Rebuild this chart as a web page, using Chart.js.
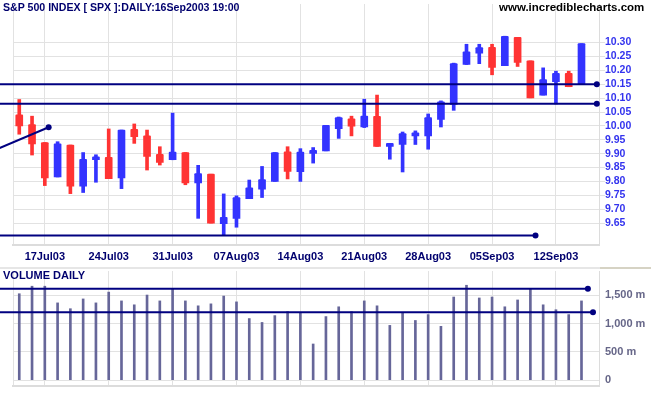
<!DOCTYPE html>
<html>
<head>
<meta charset="utf-8">
<script src="https://cdn.jsdelivr.net/npm/chart.js@4.4.0/dist/chart.umd.min.js"></script>
<style>
  html,body{margin:0;padding:0;background:#fff;}
  #wrap{position:relative;width:651px;height:395px;overflow:hidden;font-family:Arial,"Liberation Sans",sans-serif;}
  .lbl{position:absolute;font-weight:bold;white-space:nowrap;line-height:13px;}
  .sep{position:absolute;height:2px;top:267px;}
</style>
</head>
<body>
<div id="wrap">
  <canvas id="priceChart" width="651" height="267" style="position:absolute;left:0;top:0"></canvas>
  <div class="sep" style="left:0;width:600px;background:#e6e6e6"></div>
  <div class="sep" style="left:600px;width:51px;background:#d6d3c4"></div>
  <canvas id="volChart" width="651" height="128" style="position:absolute;left:0;top:267px"></canvas>
  <div class="lbl" style="left:3px;top:1px;font-size:10.6px;color:#00006e">S&amp;P 500 INDEX [ SPX ]:DAILY:16Sep2003 19:00</div>
  <div class="lbl" style="left:499px;top:1px;font-size:11.5px;color:#000">www.incrediblecharts.com</div>
  <div class="lbl" style="left:3px;top:269px;font-size:11px;color:#00006e">VOLUME DAILY</div>
</div>
<script>
// Sesiones de SPX (15 jul - 16 sep 2003)
const dates = ['15Jul03','16Jul03','17Jul03','18Jul03','21Jul03','22Jul03','23Jul03','24Jul03','25Jul03',
  '28Jul03','29Jul03','30Jul03','31Jul03','01Aug03','04Aug03','05Aug03','06Aug03','07Aug03','08Aug03',
  '11Aug03','12Aug03','13Aug03','14Aug03','15Aug03','18Aug03','19Aug03','20Aug03','21Aug03','22Aug03',
  '25Aug03','26Aug03','27Aug03','28Aug03','29Aug03','02Sep03','03Sep03','04Sep03','05Sep03',
  '08Sep03','09Sep03','10Sep03','11Sep03','12Sep03','15Sep03','16Sep03'];
const labelIdx = [2,7,12,17,22,27,32,37,42];

const open  = [10.04,10.005,9.94,9.816,9.931,9.783,9.878,9.887,9.813,9.988,9.964,9.898,9.878,9.904,9.795,9.826,9.648,9.667,9.738,9.772,9.80,9.907,9.835,9.901,9.91,9.99,10.025,9.996,10.034,9.926,9.933,9.964,9.964,10.023,10.077,10.221,10.262,10.283,10.217,10.319,10.234,10.111,10.159,10.189,10.15];
const high  = [10.095,10.035,9.94,9.943,9.931,9.904,9.896,9.989,9.985,10.007,9.985,9.925,10.046,9.904,9.858,9.826,9.755,9.748,9.805,9.854,9.904,9.925,9.918,9.922,10.002,10.032,10.035,10.096,10.111,9.936,9.978,9.982,10.043,10.09,10.226,10.294,10.294,10.294,10.323,10.319,10.234,10.209,10.197,10.197,10.296];
const low   = [9.97,9.895,9.785,9.816,9.756,9.76,9.797,9.81,9.774,9.937,9.841,9.859,9.878,9.788,9.667,9.65,9.606,9.635,9.738,9.742,9.80,9.809,9.80,9.866,9.91,9.955,9.964,9.994,9.926,9.88,9.834,9.933,9.916,9.996,10.056,10.221,10.224,10.184,10.217,10.214,10.101,10.111,10.079,10.141,10.15];
const close = [10.00,9.935,9.813,9.935,9.783,9.88,9.887,9.81,9.985,9.961,9.89,9.868,9.906,9.795,9.828,9.65,9.671,9.742,9.777,9.807,9.904,9.836,9.906,9.91,10.002,10.03,9.999,10.035,9.926,9.936,9.972,9.972,10.03,10.087,10.224,10.267,10.282,10.211,10.323,10.229,10.101,10.167,10.189,10.141,10.296];

// volumen en millones
const volume = [1529,1662,1662,1367,1264,1437,1367,1558,1402,1333,1506,1402,1610,1402,1315,1350,1488,1385,1090,1021,1142,1212,1194,640,1125,
  1298,1212,1402,1315,969,1194,1056,1160,952,1471,1679,1454,1471,1298,1419,1610,1333,1246,1160,1402];

const priceTicks = [9.65,9.70,9.75,9.80,9.85,9.90,9.95,10.00,10.05,10.10,10.15,10.20,10.25,10.30];
const volTicks = [0,500,1000,1500];

// lineas de soporte / resistencia: [x0, y0, x1, y1]
const priceLines = [[-1.55,10.15,45.2,10.15],[-1.55,10.08,45.2,10.08],[-1.55,9.605,40.4,9.605],[-1.55,9.92,2.3,9.995]];
const volLines = [[-1.55,1615,44.5,1615],[-1.55,1200,44.9,1200]];

const X_MIN = -0.49, X_MAX = 45.37;
const BLUE = '#3333ff', RED = '#ff3333', NAVY = '#000080', GRID = '#e2e2e2';

const idx = dates.map((_,i)=>i);
const candleColor = idx.map(i => close[i] >= open[i] ? BLUE : RED);

function lineSets(lines){
  return lines.map(l => ({
    type: 'line',
    data: [{x:l[0], y:l[1]}, {x:l[2], y:l[3]}],
    borderColor: NAVY,
    borderWidth: 2,
    pointRadius: [0, 3],
    pointBackgroundColor: NAVY,
    pointBorderWidth: 0,
    clip: false,
    order: 0
  }));
}

function xScale(showLabels, h){
  return {
    type: 'linear', min: X_MIN, max: X_MAX, offset: false,
    afterBuildTicks: s => { s.ticks = [X_MIN, ...labelIdx, X_MAX].map(v => ({value: v})); },
    afterFit: s => { s.height = h; s.paddingLeft = 0; s.paddingRight = 0; },
    grid: { color: GRID, drawTicks: false, offset: false },
    border: { color: '#dcdcdc', width: 2 },
    ticks: {
      display: showLabels, autoSkip: false, maxRotation: 0, padding: 5,
      color: '#00006e', font: { family: 'Arial', size: 11, weight: 'bold' },
      callback: v => labelIdx.includes(v) ? dates[v] : ''
    }
  };
}

function yFit(s){ s.width = 52; s.paddingTop = 0; s.paddingBottom = 0; }

new Chart(document.getElementById('priceChart'), {
  type: 'bar',
  data: {
    datasets: [
      ...lineSets(priceLines),
      {
        data: idx.map(i => ({x:i, y:[Math.min(open[i],close[i]), Math.max(open[i],close[i])]})),
        backgroundColor: candleColor, barThickness: 7, minBarLength: 3, grouped: false, order: 1, borderRadius: 1
      },
      {
        data: idx.map(i => ({x:i, y:[low[i], high[i]]})),
        backgroundColor: candleColor, barThickness: 3, grouped: false, order: 2
      }
    ]
  },
  options: {
    responsive: false, animation: false,
    layout: { padding: { left: 13, top: 0, right: 0, bottom: 0 } },
    plugins: { legend: { display: false }, tooltip: { enabled: false } },
    scales: {
      x: xScale(true, 22),
      y: {
        position: 'right', min: 9.571, max: 10.439, beginAtZero: false,
        afterBuildTicks: s => { s.ticks = priceTicks.map(v => ({value: v})); },
        afterFit: yFit,
        grid: { color: GRID, tickLength: 6 },
        border: { color: '#dcdcdc' },
        ticks: { padding: 0, color: '#3333ee', font: { family: 'Arial', size: 10.5, weight: 'bold' },
          callback: v => v.toFixed(2) }
      }
    }
  }
});

new Chart(document.getElementById('volChart'), {
  type: 'bar',
  data: {
    datasets: [
      ...lineSets(volLines),
      {
        data: idx.map(i => ({x:i, y:[0, volume[i]]})),
        backgroundColor: '#666699', barThickness: 2, grouped: false, order: 1
      }
    ]
  },
  options: {
    responsive: false, animation: false,
    layout: { padding: { left: 13, top: 1, right: 0, bottom: 0 } },
    plugins: { legend: { display: false }, tooltip: { enabled: false } },
    scales: {
      x: xScale(false, 9),
      y: {
        position: 'right', min: -103, max: 1931, beginAtZero: false,
        afterBuildTicks: s => { s.ticks = volTicks.map(v => ({value: v})); },
        afterFit: yFit,
        grid: { color: GRID, drawTicks: false },
        border: { color: '#dcdcdc' },
        ticks: { padding: 6, color: '#666688', font: { family: 'Arial', size: 11, weight: 'bold' },
          callback: v => v === 0 ? '0' : v.toLocaleString('en-US') + ' m' }
      }
    }
  }
});
</script>
</body>
</html>
